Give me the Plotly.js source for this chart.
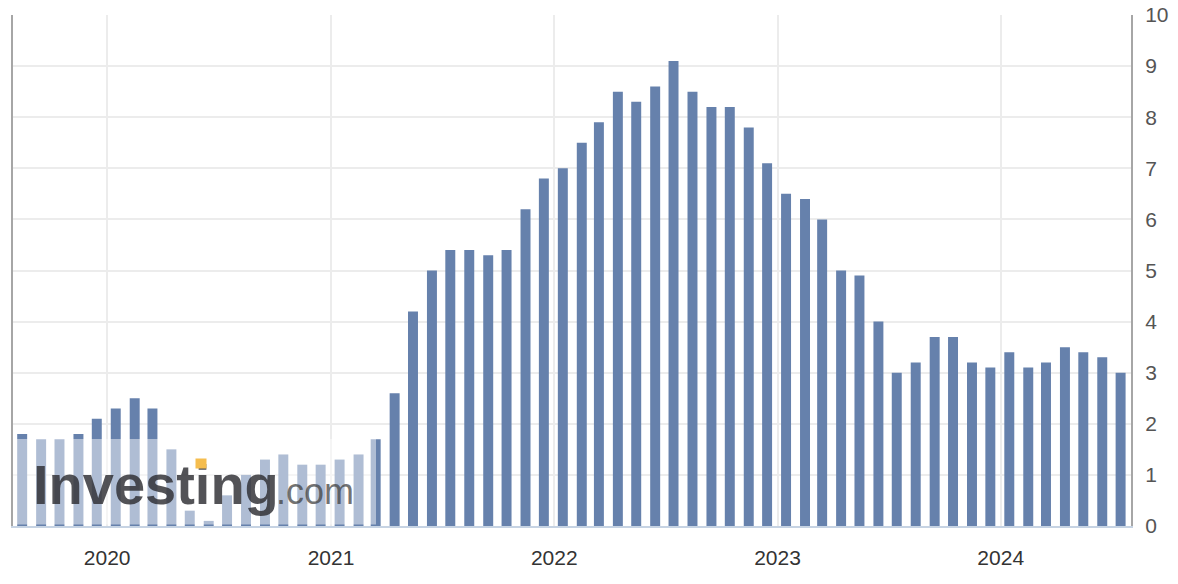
<!DOCTYPE html>
<html>
<head>
<meta charset="utf-8">
<script src="https://cdn.plot.ly/plotly-3.0.1.min.js"></script>
<style>
  html, body { margin: 0; padding: 0; background: #ffffff; }
  #chart { width: 1178px; height: 584px; }
</style>
</head>
<body>
<div id="chart"></div>
<script>
// Release months (bar centred mid-month)
const releaseDates = [
  '2019-08-15','2019-09-15','2019-10-15','2019-11-15','2019-12-15',
  '2020-01-15','2020-02-15','2020-03-15','2020-04-15','2020-05-15','2020-06-15',
  '2020-07-15','2020-08-15','2020-09-15','2020-10-15','2020-11-15','2020-12-15',
  '2021-01-15','2021-02-15','2021-03-15','2021-04-15','2021-05-15','2021-06-15',
  '2021-07-15','2021-08-15','2021-09-15','2021-10-15','2021-11-15','2021-12-15',
  '2022-01-15','2022-02-15','2022-03-15','2022-04-15','2022-05-15','2022-06-15',
  '2022-07-15','2022-08-15','2022-09-15','2022-10-15','2022-11-15','2022-12-15',
  '2023-01-15','2023-02-15','2023-03-15','2023-04-15','2023-05-15','2023-06-15',
  '2023-07-15','2023-08-15','2023-09-15','2023-10-15','2023-11-15','2023-12-15',
  '2024-01-15','2024-02-15','2024-03-15','2024-04-15','2024-05-15','2024-06-15',
  '2024-07-15'
];
// Year-over-year values
const cpiValues = [
  1.8, 1.7, 1.7, 1.8, 2.1,
  2.3, 2.5, 2.3, 1.5, 0.3, 0.1,
  0.6, 1.0, 1.3, 1.4, 1.2, 1.2,
  1.3, 1.4, 1.7, 2.6, 4.2, 5.0,
  5.4, 5.4, 5.3, 5.4, 6.2, 6.8,
  7.0, 7.5, 7.9, 8.5, 8.3, 8.6,
  9.1, 8.5, 8.2, 8.2, 7.8, 7.1,
  6.5, 6.4, 6.0, 5.0, 4.9, 4.0,
  3.0, 3.2, 3.7, 3.7, 3.2, 3.1,
  3.4, 3.1, 3.2, 3.5, 3.4, 3.3,
  3.0
];
const xRange = ['2019-07-31', '2024-08-01'];
const yTicks = [0,1,2,3,4,5,6,7,8,9,10];
const yTickLabels = ['0','1','2','3','4','5','6','7','8','9','10'];

const DAY = 86400000;
const barWidth = releaseDates.map(() => 16.3 * DAY);

const trace = {
  type: 'bar',
  x: releaseDates,
  y: cpiValues,
  width: barWidth,
  marker: { color: '#6681ac', line: { width: 0 } },
  hoverinfo: 'none'
};

// helpers: pixel -> paper for the watermark decoration
const L = 13, R = 1131, T = 15, B = 526.5;
const px = v => (v - L) / (R - L);
const py = v => (B - v) / (B - T);

const layout = {
  width: 1178,
  height: 584,
  margin: { l: L, r: 1178 - R, t: T, b: 584 - B },
  paper_bgcolor: '#ffffff',
  plot_bgcolor: '#ffffff',
  showlegend: false,
  font: { family: '"Liberation Sans", Arial, sans-serif' },
  xaxis: {
    type: 'date',
    range: xRange,
    tick0: '2020-01-01',
    dtick: 'M12',
    tickformat: '%Y',
    showgrid: true,
    gridcolor: '#ececec',
    gridwidth: 2,
    showline: true,
    linecolor: '#c6d3e3',
    linewidth: 2,
    ticks: '',
    zeroline: false,
    ticklabelstandoff: 12,
    tickfont: { size: 21, color: '#333333' },
    fixedrange: true
  },
  yaxis: {
    range: [0, 10],
    side: 'right',
    tickmode: 'array',
    tickvals: yTicks,
    ticktext: yTickLabels,
    showgrid: true,
    gridcolor: '#ececec',
    gridwidth: 2,
    showline: true,
    mirror: true,
    linecolor: '#a6a6a6',
    linewidth: 2,
    ticks: '',
    zeroline: false,
    ticklabelstandoff: 8,
    tickfont: { size: 21, color: '#555555' },
    fixedrange: true
  },
  shapes: [
    {
      type: 'rect', xref: 'paper', yref: 'paper', layer: 'above',
      x0: 0, x1: px(376), y0: 0.003, y1: py(439.5),
      fillcolor: 'rgba(255,255,255,0.48)', line: { width: 0 }
    }
  ],
  annotations: [
    {
      xref: 'paper', yref: 'paper', x: px(31), y: py(485),
      xanchor: 'left', yanchor: 'middle', showarrow: false,
      text: '<b>Investing</b>',
      font: { size: 56, color: 'rgba(45,45,50,0.82)', family: '"Liberation Sans", Arial, sans-serif' }
    },
    {
      xref: 'paper', yref: 'paper', x: px(274), y: py(492),
      xanchor: 'left', yanchor: 'middle', showarrow: false,
      text: '.com',
      font: { size: 36, color: 'rgba(60,60,60,0.72)', family: '"Liberation Sans", Arial, sans-serif' }
    },
    {
      xref: 'paper', yref: 'paper', x: px(200.5), y: py(464),
      xanchor: 'center', yanchor: 'middle', showarrow: false,
      text: ' ', width: 10, height: 9, borderpad: 0,
      bgcolor: '#f5bd4e', font: { size: 4 }
    }
  ]
};

Plotly.newPlot('chart', [trace], layout, { displayModeBar: false, staticPlot: true });
</script>
</body>
</html>
